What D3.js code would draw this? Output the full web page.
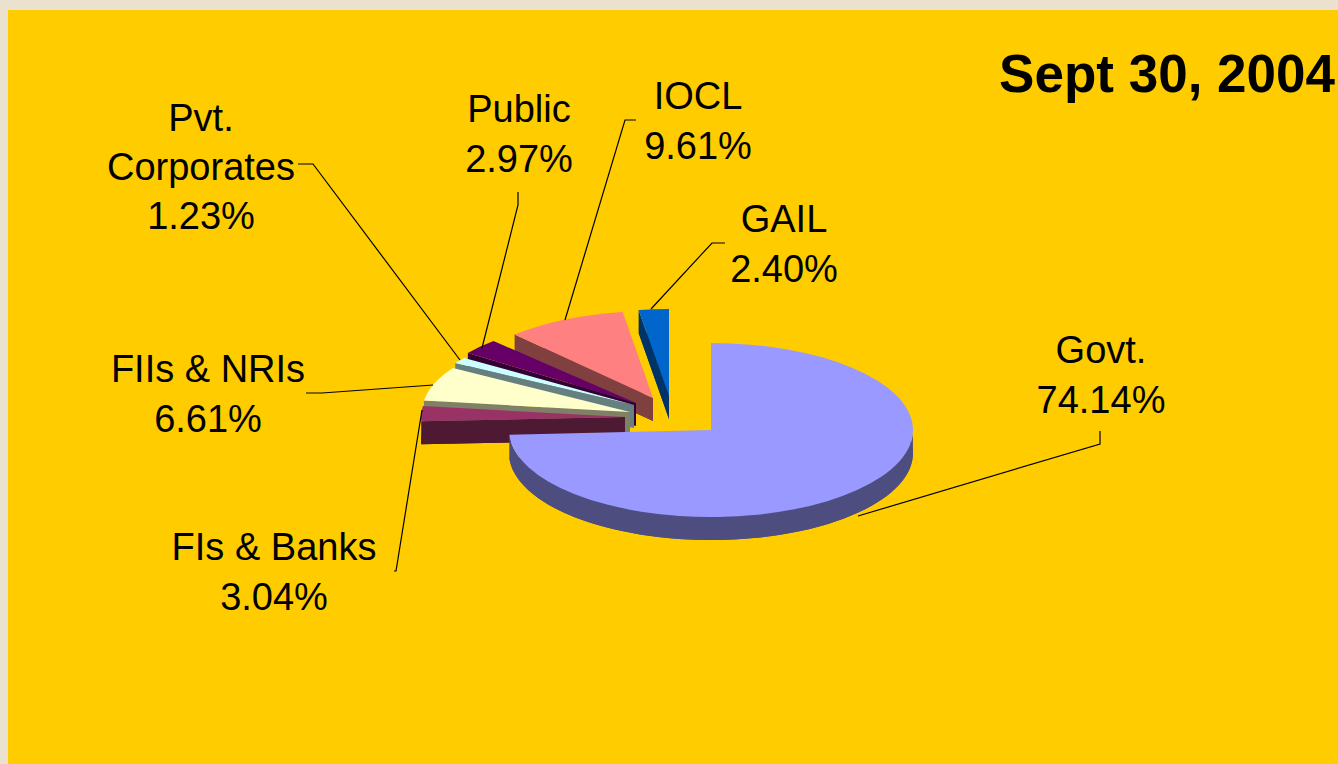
<!DOCTYPE html>
<html><head><meta charset="utf-8">
<script src="https://cdnjs.cloudflare.com/ajax/libs/d3/7.8.5/d3.min.js"></script>
<style>html,body{margin:0;padding:0;background:#eae1ce;overflow:hidden}svg{display:block}text{font-family:"Liberation Sans",Arial,sans-serif;fill:#000}</style>
</head><body><svg id="c" width="1338" height="764"></svg>
<script>
const categories = ["Govt.", "FIs & Banks", "FIIs & NRIs", "Pvt. Corporates", "Public", "IOCL", "GAIL"];
const shares = [74.14, 3.04, 6.61, 1.23, 2.97, 9.61, 2.40];
const chartTitle = "Sept 30, 2004";

// layout, separate from the data
const topColors = ["#9999ff", "#993366", "#ffffcc", "#ccffff", "#660066", "#ff8080", "#0066cc"];
const sideColors = ["#4d4d80", "#4d1933", "#808066", "#668080", "#330033", "#804040", "#003366"];
const origins = [[711,430],[625,417],[630,412],[634,405],[636,403],[653,398],[669,396]];
const radiiX = [202,204,208,210,208,202,202];
const radiiY = [87,80,84,80,85,87,87];
const labelLines = [["Govt."],["FIs & Banks"],["FIIs & NRIs"],["Pvt.","Corporates"],["Public"],["IOCL"],["GAIL"]];
const labelAnchors = [[1101,350],[274,547],[208,369],[201,118],[519,109],[698,96],[784,219]];
const labelGaps = [50,50,50,49,50,50,50];
const leaders = [
  [[1100,431],[1100,444],[858,516]],
  [[394,571],[396,571],[422,410]],
  [[306,393],[322,393],[433,385]],
  [[298,164],[313,164],[460,360]],
  [[518,192],[518,205],[482,348]],
  [[636,120],[625,120],[565,320]],
  [[725,243],[712,243],[651,309]]
];
const depth = 23, fontSize = 38;

const svg = d3.select("#c");
svg.append("rect").attr("x",8).attr("y",10).attr("width",1330).attr("height",754).attr("fill","#ffcc00");

const pieData = d3.pie().sort(null).startAngle(0).endAngle(2*Math.PI)(shares);
const arcGen = d3.arc().innerRadius(0).outerRadius(100);
const lineGen = d3.line();
const order = d3.range(shares.length).reverse();

order.forEach(i=>{
  const d = pieData[i], g = svg.append("g"), o = origins[i];
  const sc = `scale(${radiiX[i]/100},${radiiY[i]/100})`;
  const angle = d3.scaleLinear().domain([0,96]).range([d.startAngle,d.endAngle]);
  const rim = d3.range(97).map(k=>angle(k))
    .map(t=>({t, p:[o[0]+radiiX[i]*Math.sin(t), o[1]-radiiY[i]*Math.cos(t)]}));
  const down = p=>[p[0],p[1]+depth];
  const front = rim.filter(r=>Math.cos(r.t)<0).map(r=>r.p);
  const sides = [];
  if (front.length) sides.push(front.concat(front.slice().reverse().map(down)));
  if (d.endAngle-d.startAngle < Math.PI) {
    // the lower radial wall is the only one that faces the viewer
    sides.push([o,rim[0].p,down(rim[0].p),down(o)]);
  }
  g.append("path").attr("d",arcGen(d)).attr("fill",sideColors[i])
    .attr("transform",`translate(${o[0]},${o[1]+depth}) ${sc}`);
  g.selectAll("path.side").data(sides).join("path").attr("class","side")
    .attr("d",q=>lineGen(q)+"Z").attr("fill",sideColors[i]);
  g.append("path").attr("d",arcGen(d))
    .attr("transform",`translate(${o[0]},${o[1]}) ${sc}`)
    .attr("fill",topColors[i]);
});

svg.append("g").selectAll("path").data(leaders).join("path")
  .attr("d",lineGen).attr("fill","none").attr("stroke","#000").attr("stroke-width",1.2);

const fmt = d3.format(".2f");
categories.forEach((c,i)=>{
  const lines = labelLines[i].concat(fmt(shares[i])+"%"), a = labelAnchors[i];
  svg.append("g").selectAll("text").data(lines).join("text")
    .attr("x",a[0]).attr("y",(t,j)=>a[1]+j*labelGaps[i])
    .attr("dy","0.35em").attr("text-anchor","middle").attr("font-size",fontSize).text(t=>t);
});
svg.append("text").attr("x",1335).attr("y",73).attr("dy","0.35em").attr("text-anchor","end")
  .attr("font-size",53).attr("font-weight","bold").text(chartTitle);
</script></body></html>
